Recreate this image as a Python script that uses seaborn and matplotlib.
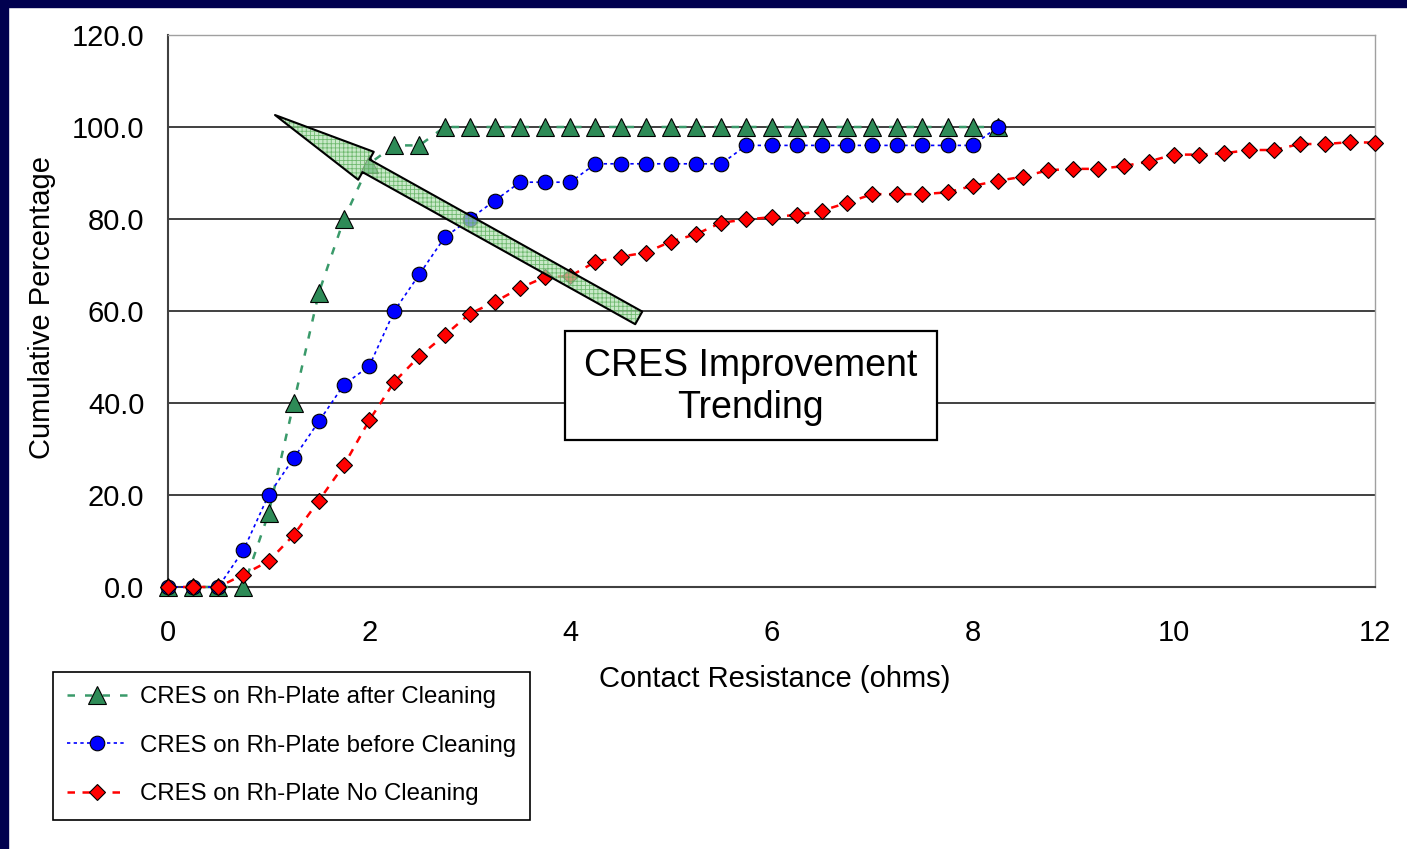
import numpy as np
import pandas as pd
import matplotlib
matplotlib.use("Agg")
import matplotlib.pyplot as plt
from matplotlib.patches import Rectangle, FancyArrowPatch
import seaborn as sns

# Data (cumulative % vs contact resistance)
x_cleaned = [0, 0.25, 0.5, 0.75, 1, 1.25, 1.5, 1.75, 2, 2.25, 2.5, 2.75, 3, 3.25, 3.5, 3.75, 4,
             4.25, 4.5, 4.75, 5, 5.25, 5.5, 5.75, 6, 6.25, 6.5, 6.75, 7, 7.25, 7.5, 7.75, 8, 8.25]
after_cleaning = [0, 0, 0, 0, 16, 40, 64, 80, 92, 96, 96, 100, 100, 100, 100, 100, 100,
                  100, 100, 100, 100, 100, 100, 100, 100, 100, 100, 100, 100, 100, 100, 100, 100, 100]
before_cleaning = [0, 0, 0, 8, 20, 28, 36, 44, 48, 60, 68, 76, 80, 84, 88, 88, 88,
                   92, 92, 92, 92, 92, 92, 96, 96, 96, 96, 96, 96, 96, 96, 96, 96, 100]

x_no_clean = [0, 0.25, 0.5, 0.75, 1, 1.25, 1.5, 1.75, 2, 2.25, 2.5, 2.75, 3, 3.25, 3.5, 3.75, 4,
              4.25, 4.5, 4.75, 5, 5.25, 5.5, 5.75, 6, 6.25, 6.5, 6.75, 7, 7.25, 7.5, 7.75, 8,
              8.25, 8.5, 8.75, 9, 9.25, 9.5, 9.75, 10, 10.25, 10.5, 10.75, 11, 11.25, 11.5, 11.75, 12]
no_cleaning = [0, 0, 0, 2.7, 5.6, 11.3, 18.8, 26.5, 36.2, 44.6, 50.2, 54.7, 59.4, 62.0, 65.0, 67.4, 67.6,
               70.7, 71.8, 72.7, 75.1, 76.7, 79.2, 79.9, 80.4, 80.9, 81.8, 83.5, 85.4, 85.4, 85.4, 85.8, 87.2,
               88.3, 89.2, 90.6, 90.9, 90.9, 91.5, 92.5, 94.0, 94.0, 94.3, 95.0, 95.0, 96.3, 96.3, 96.7, 96.6]

labels = ['CRES on Rh-Plate after Cleaning', 'CRES on Rh-Plate before Cleaning', 'CRES on Rh-Plate No Cleaning']
y_ticks = [0, 20, 40, 60, 80, 100, 120]
x_ticks = [0, 2, 4, 6, 8, 10, 12]

sns.set_style("white")
plt.rcParams['font.family'] = ['Liberation Sans', 'DejaVu Sans']
plt.rcParams['text.color'] = 'black'
plt.rcParams['axes.labelcolor'] = 'black'
plt.rcParams['xtick.color'] = 'black'
plt.rcParams['ytick.color'] = 'black'
plt.rcParams['hatch.linewidth'] = 0.6

W, H = 1407, 849
fig = plt.figure(figsize=(W / 100, H / 100), dpi=100)
fig.patch.set_facecolor('white')
# navy slide border (left and top)
fig.patches.append(Rectangle((0, 0), 8 / W, 1, transform=fig.transFigure, color='#00004f', zorder=0))
fig.patches.append(Rectangle((0, 1 - 7 / H), 1, 7 / H, transform=fig.transFigure, color='#00004f', zorder=0))

ax = fig.add_axes([168 / W, 1 - 587 / H, (1375 - 168) / W, (587 - 35) / H])

sns.lineplot(x=x_cleaned, y=after_cleaning, ax=ax, color='#3a9a6a', lw=1.8, linestyle=(0, (3, 4)),
             marker='^', markersize=12.5, markerfacecolor='#2e8b57', markeredgecolor='black',
             markeredgewidth=0.8, clip_on=False, label=labels[0], zorder=3)
sns.lineplot(x=x_cleaned, y=before_cleaning, ax=ax, color='#0000ff', lw=1.2, linestyle=(0, (2, 2)),
             marker='o', markersize=10.5, markerfacecolor='#0000ff', markeredgecolor='black',
             markeredgewidth=0.8, clip_on=False, label=labels[1], zorder=4)
sns.lineplot(x=x_no_clean, y=no_cleaning, ax=ax, color='#ff0000', lw=1.8, linestyle=(0, (3, 3)),
             marker='D', markersize=8.6, markerfacecolor='#ff0000', markeredgecolor='black',
             markeredgewidth=0.8, clip_on=False, label=labels[2], zorder=5)

ax.set_xlim(0, 12)
ax.set_ylim(0, 120)
ax.set_xticks(x_ticks)
ax.set_xticklabels([str(t) for t in x_ticks])
ax.set_yticks(y_ticks)
ax.set_yticklabels([f'{t:.1f}' for t in y_ticks])
ax.yaxis.grid(True, color='#202020', lw=1.2)
ax.set_axisbelow(True)
for s in ['top', 'right']:
    ax.spines[s].set_color('#a0a0a0')
    ax.spines[s].set_linewidth(1.0)
for s in ['left', 'bottom']:
    ax.spines[s].set_color('#404040')
    ax.spines[s].set_linewidth(1.5)
ax.tick_params(axis='both', direction='out', length=7, width=1.2, color='#404040',
               labelsize=21, labelcolor='black')
ax.tick_params(axis='x', pad=16)
ax.tick_params(axis='y', pad=10)

ax.set_xlabel('Contact Resistance (ohms)', fontsize=21)
ax.set_ylabel('Cumulative Percentage', fontsize=21)
ax.xaxis.set_label_coords(0.503, -0.141)
ax.yaxis.set_label_coords(-0.093, 0.507)

# trend arrow: translucent fill, fine green cross-hatch, black outline
arrow_style = 'simple,head_length=75,head_width=23,tail_width=10.4'
arrow_fill = FancyArrowPatch((4.68, 58.5), (1.064, 102.6), arrowstyle=arrow_style,
                             mutation_scale=1, shrinkA=0, shrinkB=0,
                             facecolor=(0.70, 0.88, 0.70, 0.7), edgecolor=(0.35, 0.68, 0.35, 0.8),
                             hatch='++++', lw=0, zorder=6, clip_on=False)
arrow_edge = FancyArrowPatch((4.68, 58.5), (1.064, 102.6), arrowstyle=arrow_style,
                             mutation_scale=1, shrinkA=0, shrinkB=0,
                             fill=False, edgecolor='black', lw=1.5, zorder=6.5, clip_on=False)
ax.add_patch(arrow_fill)
ax.add_patch(arrow_edge)

# annotation box
ax.add_patch(Rectangle((3.946, 31.96), 7.644 - 3.946, 55.7 - 31.96, facecolor='white',
                       edgecolor='black', lw=1.6, zorder=7))
ax.text(5.795, 43.5, 'CRES Improvement\nTrending', ha='center', va='center', fontsize=27,
        linespacing=1.2, zorder=8)

leg = ax.legend(loc='upper left', bbox_to_anchor=(53 / W, 1 - 672 / H), bbox_transform=fig.transFigure,
                borderaxespad=0, fontsize=17.3, frameon=True, fancybox=False, edgecolor='black',
                framealpha=1, handlelength=2.5, handletextpad=0.5, borderpad=0.6,
                labelspacing=1.1, numpoints=1)
leg.get_frame().set_linewidth(1.2)

fig.savefig('out.png', dpi=100)
